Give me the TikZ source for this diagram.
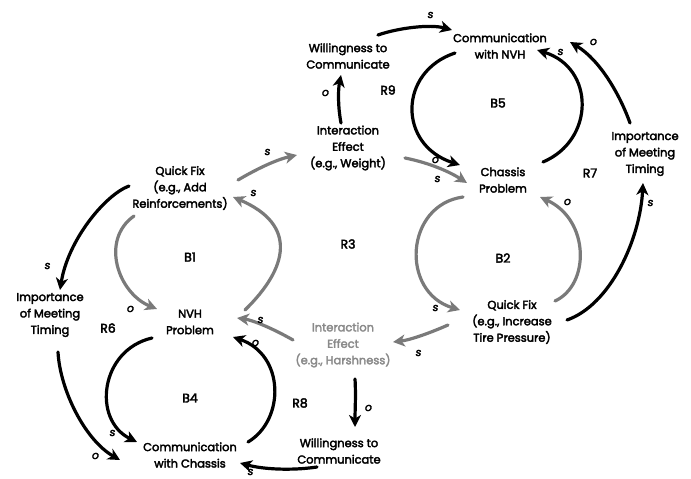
\documentclass[tikz,border=0pt]{standalone}
\usepackage{fontspec}
\setmainfont{Poppins}[FakeBold=3]
\newfontfamily\polfont{Poppins}[FakeBold=3,FakeSlant=0.15]
\usetikzlibrary{arrows.meta,calc}
\definecolor{cldgray}{HTML}{7A7A7A}
\definecolor{cldtext}{HTML}{8A8A8A}
\begin{document}
\begin{tikzpicture}[x=1bp,y=-1bp,
  var/.style={align=center,font=\fontsize{11.5}{16.5}\selectfont,inner sep=0pt},
  gvar/.style={var,text=cldtext},
  looplab/.style={font=\fontsize{12.5}{15}\selectfont,inner sep=0pt},
  pol/.style={font=\polfont\fontsize{11}{12}\selectfont,inner sep=0pt},
  lnk/.style={line width=3.2bp,line cap=round,-{Stealth[length=12bp,width=12bp,inset=3.5bp]},color=black},
  glnk/.style={lnk,color=cldgray}]
\useasboundingbox (0,0) rectangle (691,479);
% variables
\node[var] (wtc1) at (348,56) {Willingness to\\Communicate};
\node[var] (cnvh) at (500,46) {Communication\\with NVH};
\node[var] (iew) at (348,148) {Interaction\\Effect\\(e.g., Weight)};
\node[var] (qfa) at (180,188) {Quick Fix\\(e.g., Add\\Reinforcements)};
\node[var] (chp) at (503,180) {Chassis\\Problem};
\node[var] (imr) at (645,154) {Importance\\of Meeting\\Timing};
\node[var] (nvh) at (190,322) {NVH\\Problem};
\node[var] (iml) at (50,315) {Importance\\of Meeting\\Timing};
\node[gvar] (ieh) at (343,345) {Interaction\\Effect\\(e.g., Harshness)};
\node[var] (qfi) at (512,322) {Quick Fix\\(e.g., Increase\\Tire Pressure)};
\node[var] (cwc) at (190,455) {Communication\\with Chassis};
\node[var] (wtc2) at (339,451) {Willingness to\\Communicate};
% loop labels
\node[looplab] (r9) at (388,90) {R9};
\node[looplab] (b5) at (498,103) {B5};
\node[looplab] (r7) at (590,173) {R7};
\node[looplab] (r3) at (348,244) {R3};
\node[looplab] (b1) at (190,257) {B1};
\node[looplab] (b2) at (503,258) {B2};
\node[looplab] (r6) at (108,328) {R6};
\node[looplab] (b4) at (190,398) {B4};
\node[looplab] (r8) at (300,403) {R8};
% black links
\draw[lnk] ($(wtc1)+(30,-21)$) .. controls (398,28) and (430,24) .. ($(cnvh)+(-48,-16)$);
\draw[lnk] ($(iew)+(-7,-25)$) .. controls (338,108) and (338,90) .. ($(wtc1)+(-7,19)$);
\draw[lnk] ($(qfa)+(-51,-2)$) .. controls (105,195) and (68,240) .. ($(iml)+(10,-25)$);
\draw[lnk] ($(iml)+(8,37)$) .. controls (60,390) and (85,440) .. ($(cwc)+(-70,5)$);
\draw[lnk] ($(nvh)+(-38,16)$) .. controls (100,350) and (92,420) .. ($(cwc)+(-53,-13)$);
\draw[lnk] ($(cwc)+(58,-13)$) .. controls (285,420) and (285,355) .. ($(nvh)+(43,15)$);
\draw[lnk] ($(wtc2)+(-22,16)$) .. controls (290,471) and (262,469) .. ($(cwc)+(50,8)$);
\draw[lnk] ($(ieh)+(12,34)$) .. controls (356,395) and (355,410) .. ($(wtc2)+(16,-24)$);
\draw[lnk] ($(qfi)+(55,-2)$) .. controls (610,305) and (640,240) .. ($(imr)+(-2,29)$);
\draw[lnk] ($(imr)+(-15,-31)$) .. controls (620,95) and (600,60) .. ($(cnvh)+(70,-4)$);
\draw[lnk] ($(chp)+(40,-18)$) .. controls (595,140) and (595,68) .. ($(cnvh)+(37,4)$);
\draw[lnk] ($(cnvh)+(-45,7)$) .. controls (398,72) and (398,145) .. ($(chp)+(-43,-15)$);
% gray links
\draw[glnk] ($(qfa)+(58,-8)$) .. controls (255,170) and (275,160) .. ($(iew)+(-51,7)$);
\draw[glnk] ($(nvh)+(55,-12)$) .. controls (288,268) and (298,225) .. ($(qfa)+(53,9)$);
\draw[glnk] ($(qfa)+(-46,28)$) .. controls (100,240) and (118,293) .. ($(nvh)+(-33,-13)$);
\draw[glnk] ($(ieh)+(-50,-5)$) .. controls (272,328) and (252,320) .. ($(nvh)+(47,-4)$);
\draw[glnk] ($(qfi)+(-64,3)$) .. controls (430,333) and (410,340) .. ($(ieh)+(50,-3)$);
\draw[glnk] ($(chp)+(-40,17)$) .. controls (405,205) and (400,292) .. ($(qfi)+(-52,-12)$);
\draw[glnk] ($(qfi)+(43,-21)$) .. controls (590,285) and (590,220) .. ($(chp)+(37,17)$);
\draw[glnk] ($(iew)+(57,10)$) .. controls (430,163) and (450,172) .. ($(chp)+(-36,3)$);
% polarity labels
\node[pol] (p1) at (430,15) {s};
\node[pol] (p2) at (325,93) {o};
\node[pol] (p3) at (267,152) {s};
\node[pol] (p4) at (253,193) {s};
\node[pol] (p5) at (130,309) {o};
\node[pol] (p6) at (47,266) {s};
\node[pol] (p7) at (95,456) {o};
\node[pol] (p8) at (112,433) {s};
\node[pol] (p9) at (255,343) {o};
\node[pol] (p10) at (260,320) {s};
\node[pol] (p11) at (250,472) {s};
\node[pol] (p12) at (368,408) {o};
\node[pol] (p13) at (418,353) {s};
\node[pol] (p14) at (435,308) {s};
\node[pol] (p15) at (567,202) {o};
\node[pol] (p16) at (650,203) {s};
\node[pol] (p17) at (593,42) {o};
\node[pol] (p18) at (560,52) {s};
\node[pol] (p19) at (435,160) {o};
\node[pol] (p20) at (437,179) {s};
\end{tikzpicture}
\end{document}
